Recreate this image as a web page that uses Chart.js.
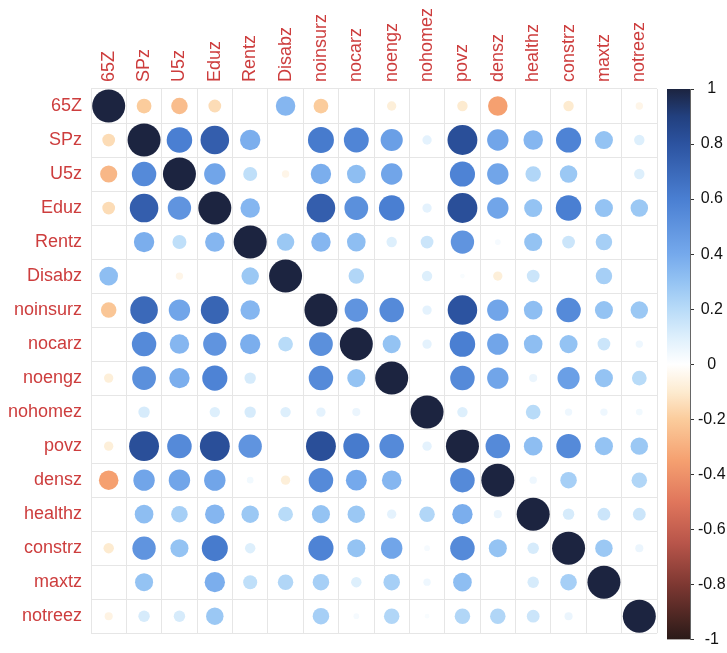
<!DOCTYPE html>
<html lang="en">
<head>
<meta charset="UTF-8">
<title>Correlation matrix</title>
<script src="https://cdn.jsdelivr.net/npm/chart.js"></script>
<style>
  body { margin: 0; background: #ffffff; }
  #wrap { position: relative; width: 727px; height: 653px; overflow: hidden; }
  #corr { position: absolute; left: 0; top: 0; }
  #bar { position: absolute; left: 660px; top: 0; }
</style>
</head>
<body>
<div id="wrap">
  <canvas id="corr" width="660" height="653"></canvas>
  <canvas id="bar" width="67" height="653"></canvas>
</div>
<script>
  // variable names (same order on both axes)
  const vars = ['65Z', 'SPz', 'U5z', 'Eduz', 'Rentz', 'Disabz', 'noinsurz', 'nocarz',
                'noengz', 'nohomez', 'povz', 'densz', 'healthz', 'constrz', 'maxtz', 'notreez'];

  // correlations, one row per variable
  const r65Z      = [1, -0.2, -0.25, -0.15, 0, 0.35, -0.2, 0, -0.08, 0, -0.1, -0.35, 0, -0.1, 0, -0.05];
  const rSPz      = [-0.15, 1, 0.6, 0.75, 0.38, 0, 0.62, 0.57, 0.45, 0.08, 0.82, 0.42, 0.35, 0.58, 0.3, 0.1];
  const rU5z      = [-0.27, 0.55, 1, 0.42, 0.18, -0.05, 0.38, 0.32, 0.42, 0, 0.58, 0.42, 0.22, 0.28, 0, 0.1];
  const rEduz     = [-0.15, 0.75, 0.5, 1, 0.35, 0, 0.75, 0.52, 0.6, 0.08, 0.82, 0.42, 0.3, 0.6, 0.3, 0.28];
  const rRentz    = [0, 0.38, 0.18, 0.35, 1, 0.28, 0.35, 0.32, 0.1, 0.15, 0.5, 0.03, 0.3, 0.15, 0.25, 0];
  const rDisabz   = [0.32, 0, -0.05, 0, 0.28, 1, 0, 0.22, 0, 0.1, 0.02, -0.08, 0.15, 0, 0.25, 0];
  const rNoinsurz = [-0.22, 0.7, 0.42, 0.72, 0.35, 0, 1, 0.5, 0.55, 0.08, 0.8, 0.42, 0.32, 0.55, 0.3, 0.28];
  const rNocarz   = [0, 0.55, 0.35, 0.5, 0.38, 0.2, 0.52, 1, 0.3, 0.08, 0.6, 0.42, 0.32, 0.3, 0.15, 0.05];
  const rNoengz   = [-0.08, 0.52, 0.38, 0.58, 0.12, 0, 0.55, 0.3, 1, 0, 0.55, 0.42, 0.06, 0.45, 0.3, 0.2];
  const rNohomez  = [0, 0.12, 0, 0.1, 0.12, 0.1, 0.08, 0.06, 0, 1, 0.1, 0, 0.2, 0.05, 0.05, 0.04];
  const rPovz     = [-0.08, 0.82, 0.55, 0.82, 0.5, 0, 0.82, 0.62, 0.55, 0.08, 1, 0.55, 0.32, 0.55, 0.3, 0.28];
  const rDensz    = [-0.35, 0.42, 0.42, 0.42, 0.04, -0.08, 0.55, 0.4, 0.35, 0, 0.55, 1, 0.05, 0.25, 0, 0.22];
  const rHealthz  = [0, 0.32, 0.25, 0.35, 0.28, 0.2, 0.3, 0.28, 0.08, 0.22, 0.38, 0.06, 1, 0.12, 0.15, 0.15];
  const rConstrz  = [-0.1, 0.5, 0.3, 0.62, 0.1, 0, 0.58, 0.3, 0.42, 0.03, 0.55, 0.3, 0.12, 1, 0.28, 0.06];
  const rMaxtz    = [0, 0.3, 0, 0.38, 0.18, 0.22, 0.25, 0.1, 0.25, 0.05, 0.32, 0, 0.12, 0.25, 1, 0];
  const rNotreez  = [-0.06, 0.12, 0.12, 0.28, 0, 0, 0.25, 0.03, 0.22, 0.02, 0.22, 0.22, 0.15, 0.06, 0, 1];

  const corrRows = [r65Z, rSPz, rU5z, rEduz, rRentz, rDisabz, rNoinsurz, rNocarz,
                    rNoengz, rNohomez, rPovz, rDensz, rHealthz, rConstrz, rMaxtz, rNotreez];

  // colour bar ticks
  const barTicks = [1, 0.8, 0.6, 0.4, 0.2, 0, -0.2, -0.4, -0.6, -0.8, -1];

  // palette (value -> colour)
  const palette = [
    [1, '#1c2440'], [0.9, '#22407f'], [0.8, '#2c53a0'], [0.6, '#4a7fd2'], [0.4, '#75a9ec'],
    [0.3, '#94c3f3'], [0.2, '#b8dbf8'], [0.1, '#ddeffc'], [0, '#ffffff'], [-0.1, '#fdebd0'],
    [-0.2, '#fbcc9c'], [-0.35, '#f5a070'], [-0.5, '#e0765c'], [-0.65, '#b8554a'], [-0.8, '#7e3832'],
    [-1, '#2a1a18']
  ];

  function hexRgb(h) {
    return [parseInt(h.slice(1, 3), 16), parseInt(h.slice(3, 5), 16), parseInt(h.slice(5, 7), 16)];
  }

  function colorFor(v) {
    for (let i = 0; i < palette.length - 1; i++) {
      const [v1, c1] = palette[i];
      const [v2, c2] = palette[i + 1];
      if (v <= v1 && v >= v2) {
        const t = (v1 - v) / (v1 - v2);
        const a = hexRgb(c1), b = hexRgb(c2);
        const m = a.map((x, k) => Math.round(x + (b[k] - x) * t));
        return `rgb(${m[0]}, ${m[1]}, ${m[2]})`;
      }
    }
    return '#ffffff';
  }

  const maxR = 16.5;
  const labelRed = '#cd3d3d';
  const gridGrey = '#e6e6e6';
  const labelFont = { family: 'Liberation Sans', size: 18 };

  const points = [];
  corrRows.forEach((row, i) => {
    row.forEach((v, j) => {
      points.push({ x: vars[j], y: vars[i], r: maxR * Math.sqrt(Math.abs(v)), v: v });
    });
  });

  new Chart(document.getElementById('corr'), {
    type: 'bubble',
    data: {
      datasets: [{
        data: points,
        backgroundColor: ctx => colorFor(ctx.raw ? ctx.raw.v : 0),
        borderWidth: 0,
        hoverBorderWidth: 0,
        hoverRadius: 0
      }]
    },
    options: {
      responsive: false,
      animation: false,
      events: [],
      layout: { autoPadding: false, padding: { left: 0, top: 0, right: 3, bottom: 8 } },
      plugins: { legend: { display: false }, tooltip: { enabled: false } },
      scales: {
        x: {
          type: 'category',
          labels: vars,
          position: 'top',
          offset: true,
          grid: { offset: true, color: gridGrey, drawTicks: false },
          border: { display: false },
          ticks: {
            autoSkip: false, minRotation: 90, maxRotation: 90, padding: 7,
            labelOffset: labelFont.size * 1.2,   // top axis shifts rotated labels left by one line height
            color: labelRed, font: labelFont
          },
          afterFit: s => { s.height = 89; }
        },
        y: {
          type: 'category',
          labels: vars,
          offset: true,
          grid: { offset: true, color: gridGrey, drawTicks: false },
          border: { display: false },
          ticks: { autoSkip: false, padding: 9, color: labelRed, font: labelFont },
          afterFit: s => { s.width = 91; }
        }
      }
    }
  });

  // colour bar
  function barGradient(ctx) {
    const area = ctx.chart.chartArea;
    if (!area) return null;
    const g = ctx.chart.ctx.createLinearGradient(0, area.top, 0, area.bottom);
    palette.forEach(([v, c]) => g.addColorStop((1 - v) / 2, c));
    return g;
  }

  new Chart(document.getElementById('bar'), {
    type: 'bar',
    data: {
      labels: ['cb'],
      datasets: [{
        data: [[-1, 1]],
        backgroundColor: barGradient,
        borderWidth: 0,
        barPercentage: 1,
        categoryPercentage: 1
      }]
    },
    options: {
      responsive: false,
      animation: false,
      events: [],
      layout: { autoPadding: false, padding: { left: 7, top: 89, right: 0, bottom: 8 } },
      plugins: { legend: { display: false }, tooltip: { enabled: false } },
      scales: {
        x: { display: false },
        y: {
          position: 'right',
          min: -1,
          max: 1,
          grid: { drawOnChartArea: false, drawTicks: true, tickLength: 4, color: '#333333' },
          border: { display: true, color: '#666666' },
          afterBuildTicks: s => { s.ticks = barTicks.map(v => ({ value: v })); },
          ticks: {
            padding: 4,
            crossAlign: 'center',
            color: '#111111',
            font: { family: 'Liberation Sans', size: 16 },
            callback: v => String(v)
          },
          afterFit: s => { s.width = 37; }
        }
      }
    }
  });
</script>
</body>
</html>
